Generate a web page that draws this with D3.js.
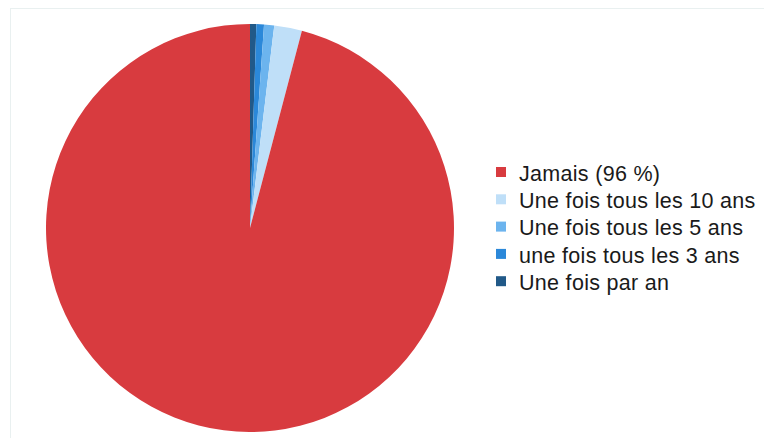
<!DOCTYPE html>
<html>
<head>
<meta charset="utf-8">
<script src="https://cdn.jsdelivr.net/npm/d3@7"></script>
<style>
  body { margin: 0; background: #fff; }
  text { font-family: "Liberation Sans", Arial, sans-serif; }
</style>
</head>
<body>
<svg id="chart"></svg>
<script>
'use strict';

// legend order (top to bottom)
const categories = [
  'Jamais (96 %)',
  'Une fois tous les 10 ans',
  'Une fois tous les 5 ans',
  'une fois tous les 3 ans',
  'Une fois par an'
];
const values = [96, 2.2, 0.8, 0.6, 0.5];
const colors = ['#d83b3f', '#bfdff8', '#6cb4ee', '#2b88d9', '#215988'];

const width = 764;
const height = 438;

const svg = d3.select('#chart')
  .attr('width', width)
  .attr('height', height);

// faint frame
svg.append('rect')
  .attr('x', 10.5)
  .attr('y', 8.5)
  .attr('width', width)
  .attr('height', height)
  .attr('fill', 'none')
  .attr('stroke', '#e9f0f0');

const data = categories.map((c, i) => ({ name: c, value: values[i], color: colors[i] }));

// slices run clockwise from 12 o'clock in reverse legend order
const pie = d3.pie()
  .sort(null)
  .value(d => d.value);

const arc = d3.arc()
  .innerRadius(0)
  .outerRadius(204);

const pieG = svg.append('g')
  .attr('transform', 'translate(250,228)');

pieG.selectAll('path')
  .data(pie(data.slice().reverse()))
  .enter()
  .append('path')
  .attr('d', arc)
  .attr('fill', d => d.data.color);

const legend = svg.append('g')
  .attr('transform', 'translate(496,167)');

const yScale = d3.scalePoint()
  .domain(categories)
  .range([0, 27.3 * 4]);

const rows = legend.selectAll('g')
  .data(data)
  .enter()
  .append('g')
  .attr('transform', d => 'translate(0,' + yScale(d.name) + ')');

rows.append('rect')
  .attr('width', 10)
  .attr('height', 10)
  .attr('fill', d => d.color);

rows.append('text')
  .attr('x', 23)
  .attr('y', 13.7)
  .attr('font-size', 21.5)
  .attr('letter-spacing', 0.3)
  .attr('fill', '#1a1a1a')
  .text(d => d.name);
</script>
</body>
</html>
